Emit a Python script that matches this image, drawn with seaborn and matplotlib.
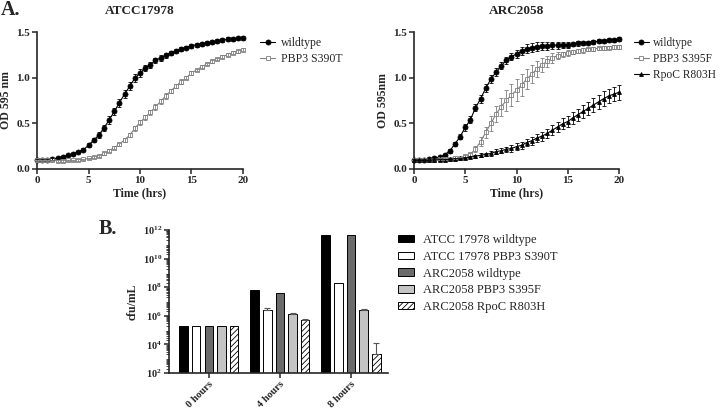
import matplotlib
matplotlib.use("Agg")

import matplotlib.pyplot as plt
import matplotlib.ticker as mticker
import numpy as np
import pandas as pd
import seaborn as sns


# growth curves, OD 595 read every 30 min
hours = [0, 0.5, 1, 1.5, 2, 2.5, 3, 3.5, 4, 4.5, 5, 5.5, 6, 6.5, 7, 7.5, 8, 8.5, 9, 9.5, 10,
         10.5, 11, 11.5, 12, 12.5, 13, 13.5, 14, 14.5, 15, 15.5, 16, 16.5, 17, 17.5, 18, 18.5, 19, 19.5, 20]

atcc_wt = [0.095, 0.10, 0.10, 0.11, 0.12, 0.135, 0.15, 0.165, 0.19, 0.21, 0.26, 0.315, 0.37, 0.45, 0.535,
           0.63, 0.725, 0.82, 0.905, 0.995, 1.05, 1.105, 1.14, 1.19, 1.215, 1.245, 1.27, 1.29, 1.315, 1.33,
           1.35, 1.36, 1.37, 1.38, 1.39, 1.40, 1.41, 1.42, 1.425, 1.43, 1.435]
atcc_wt_err = [0.01, 0.01, 0.01, 0.01, 0.01, 0.01, 0.01, 0.01, 0.01, 0.015, 0.02, 0.02, 0.03, 0.035, 0.04,
               0.04, 0.045, 0.045, 0.045, 0.04, 0.04, 0.035, 0.035, 0.03, 0.03, 0.03, 0.025, 0.025, 0.02, 0.02,
               0.02, 0.02, 0.02, 0.02, 0.02, 0.02, 0.02, 0.02, 0.02, 0.02, 0.02]
atcc_pbp3 = [0.095, 0.095, 0.095, 0.095, 0.09, 0.09, 0.095, 0.095, 0.10, 0.105, 0.115, 0.13, 0.145, 0.17, 0.20,
             0.235, 0.27, 0.32, 0.37, 0.445, 0.51, 0.565, 0.62, 0.68, 0.74, 0.80, 0.855, 0.91, 0.955, 1.00,
             1.05, 1.085, 1.12, 1.15, 1.18, 1.205, 1.23, 1.25, 1.275, 1.29, 1.305]
atcc_pbp3_err = [0.008, 0.008, 0.008, 0.008, 0.008, 0.008, 0.008, 0.008, 0.008, 0.008, 0.008, 0.01, 0.01, 0.012,
                 0.015, 0.015, 0.02, 0.02, 0.02, 0.025, 0.025, 0.03, 0.03, 0.03, 0.03, 0.03, 0.025, 0.025, 0.025,
                 0.02, 0.02, 0.015, 0.015, 0.015, 0.015, 0.015, 0.015, 0.015, 0.015, 0.015, 0.015]

arc_wt = [0.095, 0.095, 0.10, 0.105, 0.115, 0.13, 0.155, 0.20, 0.275, 0.355, 0.455, 0.54, 0.67, 0.77, 0.885,
          0.985, 1.06, 1.13, 1.19, 1.23, 1.26, 1.29, 1.315, 1.33, 1.34, 1.345, 1.35, 1.355, 1.355, 1.36,
          1.36, 1.37, 1.375, 1.38, 1.385, 1.39, 1.40, 1.405, 1.41, 1.415, 1.42]
arc_wt_err = [0.01, 0.01, 0.01, 0.01, 0.01, 0.01, 0.01, 0.02, 0.025, 0.03, 0.035, 0.04, 0.04, 0.045, 0.045,
              0.045, 0.045, 0.04, 0.04, 0.04, 0.04, 0.045, 0.05, 0.05, 0.05, 0.045, 0.045, 0.04, 0.04, 0.03,
              0.03, 0.025, 0.025, 0.025, 0.02, 0.02, 0.02, 0.02, 0.02, 0.02, 0.02]
arc_pbp3 = [0.095, 0.095, 0.095, 0.10, 0.10, 0.105, 0.11, 0.11, 0.115, 0.125, 0.14, 0.16, 0.22, 0.30, 0.40,
            0.50, 0.60, 0.68, 0.75, 0.81, 0.86, 0.92, 0.985, 1.04, 1.095, 1.14, 1.18, 1.215, 1.24, 1.255,
            1.27, 1.28, 1.29, 1.30, 1.31, 1.315, 1.32, 1.325, 1.33, 1.335, 1.335]
arc_pbp3_err = [0.01, 0.01, 0.01, 0.01, 0.01, 0.01, 0.01, 0.01, 0.01, 0.01, 0.01, 0.02, 0.03, 0.05, 0.06,
                0.08, 0.09, 0.10, 0.11, 0.12, 0.12, 0.12, 0.11, 0.10, 0.09, 0.08, 0.06, 0.05, 0.04, 0.03,
                0.03, 0.025, 0.025, 0.025, 0.02, 0.02, 0.02, 0.02, 0.02, 0.02, 0.02]
arc_rpoc = [0.095, 0.095, 0.095, 0.095, 0.10, 0.10, 0.10, 0.105, 0.11, 0.115, 0.12, 0.13, 0.14, 0.15, 0.16,
            0.17, 0.19, 0.20, 0.215, 0.225, 0.245, 0.26, 0.29, 0.31, 0.34, 0.36, 0.39, 0.425, 0.46, 0.495,
            0.52, 0.56, 0.595, 0.63, 0.665, 0.70, 0.735, 0.77, 0.80, 0.82, 0.84]
arc_rpoc_err = [0.01, 0.01, 0.01, 0.01, 0.01, 0.01, 0.01, 0.01, 0.01, 0.01, 0.01, 0.015, 0.015, 0.02, 0.02,
                0.025, 0.025, 0.03, 0.03, 0.035, 0.035, 0.04, 0.04, 0.045, 0.045, 0.05, 0.05, 0.055, 0.055,
                0.06, 0.06, 0.065, 0.065, 0.07, 0.07, 0.075, 0.075, 0.08, 0.08, 0.08, 0.08]

# viable counts
timepoints = ["0 hours", "4 hours", "8 hours"]
strains = ["ATCC 17978 wildtype", "ATCC 17978 PBP3 S390T", "ARC2058 wildtype",
           "ARC2058 PBP3 S395F", "ARC2058 RpoC R803H"]
cfu_atcc_wt = [2.0e5, 6.5e7, 4.5e11]
cfu_atcc_pbp3 = [2.0e5, 2.4e6, 2.0e8]
cfu_arc_wt = [2.0e5, 4.2e7, 4.5e11]
cfu_arc_pbp3 = [2.0e5, 1.3e6, 2.6e6]
cfu_arc_rpoc = [2.0e5, 5.2e5, 2.1e3]
cfu_atcc_wt_err = [0, 0, 0]
cfu_atcc_pbp3_err = [0, 1.0e6, 0]
cfu_arc_wt_err = [0, 0, 0]
cfu_arc_pbp3_err = [0, 0.25e6, 0.35e6]
cfu_arc_rpoc_err = [0, 1.0e5, 1.05e4]

sns.set_style("ticks")
plt.rcParams["font.family"] = ["Liberation Serif", "DejaVu Serif"]
plt.rcParams["mathtext.fontset"] = "custom"
plt.rcParams["mathtext.rm"] = "Liberation Serif:bold"
plt.rcParams["mathtext.bf"] = "Liberation Serif:bold"
plt.rcParams["mathtext.default"] = "rm"
plt.rcParams["hatch.linewidth"] = 0.6

fig = plt.figure(figsize=(7.2, 4.09), dpi=100)
W, H = 720, 409


def px_axes(x0, y0, x1, y1):
    return fig.add_axes([x0 / W, 1 - y1 / H, (x1 - x0) / W, (y1 - y0) / H])


def style_growth_axes(ax, ylabel):
    ax.set_xlim(0, 20)
    ax.set_ylim(0, 1.5)
    ax.set_xticks([0, 5, 10, 15, 20])
    ax.set_yticks([0, 0.5, 1.0, 1.5])
    ax.yaxis.set_major_formatter(mticker.FormatStrFormatter("%.1f"))
    ax.set_xlabel("Time (hrs)", fontsize=8.5, fontweight="bold", labelpad=2)
    ax.set_ylabel(ylabel, fontsize=8.5, fontweight="bold", labelpad=3)
    ax.tick_params(axis="both", labelsize=8, width=1.1, length=3.5, pad=1.5)
    for lab in ax.get_xticklabels() + ax.get_yticklabels():
        lab.set_fontweight("bold")
    for side in ["left", "bottom"]:
        ax.spines[side].set_linewidth(1.2)
    sns.despine(ax=ax)


def draw_curve(ax, vals, errs, label, color, marker, size, face):
    sns.lineplot(x=hours, y=vals, ax=ax, color=color, linewidth=0.8, marker=marker, markersize=size,
                 markerfacecolor=face, markeredgecolor=color, markeredgewidth=0.6, label=label,
                 errorbar=None, clip_on=False, zorder=3)
    ax.errorbar(hours, vals, yerr=errs, fmt="none", ecolor=color, elinewidth=0.6, capsize=1.6,
                capthick=0.6, clip_on=False, zorder=4)


# panel A, left
ax1 = px_axes(37, 32, 243, 169)
draw_curve(ax1, atcc_wt, atcc_wt_err, "wildtype", "black", "o", 3.6, "black")
draw_curve(ax1, atcc_pbp3, atcc_pbp3_err, "PBP3 S390T", "#7f7f7f", "s", 2.4, "white")
style_growth_axes(ax1, "OD 595 nm")
ax1.legend(frameon=False, loc="upper left", bbox_to_anchor=(1.06, 0.995), fontsize=8.5,
           handlelength=1.3, handletextpad=0.45, labelspacing=0.3, borderaxespad=0)

# panel A, right
ax2 = px_axes(414, 32, 619, 169)
draw_curve(ax2, arc_wt, arc_wt_err, "wildtype", "black", "o", 3.6, "black")
draw_curve(ax2, arc_pbp3, arc_pbp3_err, "PBP3 S395F", "#7f7f7f", "s", 2.4, "white")
draw_curve(ax2, arc_rpoc, arc_rpoc_err, "RpoC R803H", "black", "^", 2.8, "black")
style_growth_axes(ax2, "OD 595nm")
ax2.legend(frameon=False, loc="upper left", bbox_to_anchor=(1.05, 0.995), fontsize=8.3,
           handlelength=1.3, handletextpad=0.4, labelspacing=0.35, borderaxespad=0)

fig.text(140 / W, 1 - 11.5 / H, "ATCC17978", ha="center", va="center", fontsize=9.5, fontweight="bold")
fig.text(517 / W, 1 - 11.5 / H, "ARC2058", ha="center", va="center", fontsize=9.5, fontweight="bold")
fig.text(1 / W, 1 - 10 / H, "A.", ha="left", va="center", fontsize=14.5, fontweight="bold")

# panel B
cfu_table = pd.DataFrame({
    "time": timepoints * len(strains),
    "strain": [s for s in strains for _ in timepoints],
    "cfu": cfu_atcc_wt + cfu_atcc_pbp3 + cfu_arc_wt + cfu_arc_pbp3 + cfu_arc_rpoc,
})
cfu_errs = [cfu_atcc_wt_err, cfu_atcc_pbp3_err, cfu_arc_wt_err, cfu_arc_pbp3_err, cfu_arc_rpoc_err]
cfu_vals = [cfu_atcc_wt, cfu_atcc_pbp3, cfu_arc_wt, cfu_arc_pbp3, cfu_arc_rpoc]
bar_colors = ["#000000", "#ffffff", "#6b6b6b", "#c4c4c4", "#ffffff"]

ax3 = px_axes(169, 230, 388, 373)
ax3.set_yscale("log")
sns.barplot(data=cfu_table, x="time", y="cfu", hue="strain", hue_order=strains, order=timepoints,
            palette=bar_colors, edgecolor="black", linewidth=0.7, width=0.89, gap=0.33,
            errorbar=None, legend=False, ax=ax3)
bar_groups = list(ax3.containers)
for patch in bar_groups[4]:
    patch.set_hatch("//////")

for container, vals, errs in zip(bar_groups, cfu_vals, cfu_errs):
    xs = [p.get_x() + p.get_width() / 2 for p in container]
    for x, v, e in zip(xs, vals, errs):
        if e > 0:
            ax3.errorbar([x], [v], yerr=[[0], [e]], fmt="none", ecolor="#555555", elinewidth=0.8,
                         capsize=2, capthick=0.8)

ax3.set_xlim(-0.56, 2.52)
ax3.set_ylim(1e2, 1e12)
ax3.set_yticks([1e2, 1e4, 1e6, 1e8, 1e10, 1e12])
ax3.set_yticklabels(["$10^{2}$", "$10^{4}$", "$10^{6}$", "$10^{8}$", "$10^{10}$", "$10^{12}$"])
ax3.yaxis.set_minor_locator(mticker.LogLocator(base=10, subs=np.arange(2, 10), numticks=100))
ax3.yaxis.set_minor_formatter(mticker.NullFormatter())
ax3.tick_params(axis="y", which="major", labelsize=7.5, width=1.1, length=3.5, pad=1.5)
ax3.tick_params(axis="y", which="minor", width=0.6, length=2)
ax3.tick_params(axis="x", width=1.1, length=3.5, pad=1)
ax3.set_xticks(range(len(timepoints)))
ax3.set_xticklabels(timepoints, rotation=45, ha="right", rotation_mode="anchor",
                    fontsize=7.5, fontweight="bold")
ax3.set_xlabel("")
ax3.set_ylabel("cfu/mL", fontsize=8.5, fontweight="bold", labelpad=3)
for side in ["left", "bottom"]:
    ax3.spines[side].set_linewidth(1.2)
sns.despine(ax=ax3)

handles = [c.patches[0] for c in bar_groups]
fig.legend(handles, strains, loc="upper left", bbox_to_anchor=(398 / W, 1 - 234 / H), frameon=False,
           fontsize=9, handlelength=1.3, handleheight=0.55, handletextpad=0.7, labelspacing=0.38,
           borderaxespad=0, borderpad=0)
fig.text(99 / W, 1 - 229 / H, "B.", ha="left", va="center", fontsize=14.5, fontweight="bold")

fig.savefig("out.png", dpi=100)
